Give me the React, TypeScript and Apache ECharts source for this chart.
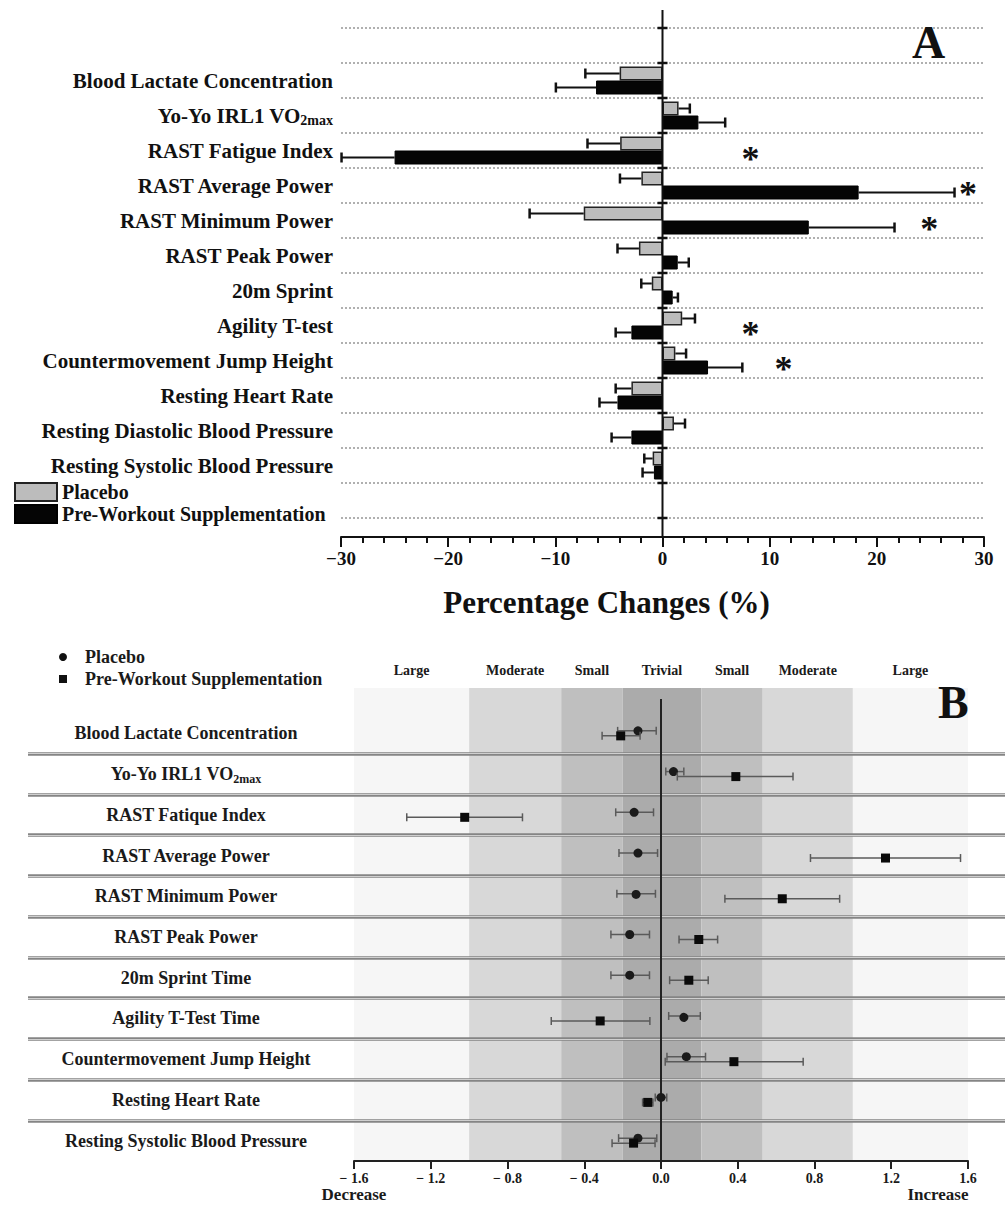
import React, { useEffect, useRef } from 'react';
import * as echarts from 'echarts';

const SERIF = '"Liberation Serif", "Times New Roman", serif';

// ---------- Panel A data (percentage changes) ----------
const catsA = [
  'Blood Lactate Concentration',
  'Yo-Yo IRL1 VO2max',
  'RAST Fatigue Index',
  'RAST Average Power',
  'RAST Minimum Power',
  'RAST Peak Power',
  '20m Sprint',
  'Agility T-test',
  'Countermovement Jump Height',
  'Resting Heart Rate',
  'Resting Diastolic Blood Pressure',
  'Resting Systolic Blood Pressure',
];
const placeboA = [-4.0, 1.5, -3.95, -1.97, -7.35, -2.2, -1.0, 1.84, 1.2, -2.9, 1.07, -0.92];
const placeboSDA = [3.2, 1.05, 3.05, 2.0, 5.05, 2.0, 0.98, 1.19, 1.0, 1.47, 1.03, 0.78];
const pwsA = [-6.2, 3.35, -25.0, 18.3, 13.65, 1.42, 0.95, -2.9, 4.25, -4.2, -2.9, -0.8];
const pwsSDA = [3.75, 2.5, 4.95, 8.95, 8.0, 1.03, 0.49, 1.47, 3.2, 1.68, 1.85, 1.06];
const starCatsA = ['RAST Fatigue Index', 'RAST Average Power', 'RAST Minimum Power', 'Agility T-test', 'Countermovement Jump Height'];
const starXA = [8.2, 28.5, 24.9, 8.2, 11.3];

// ---------- Panel B data (effect sizes) ----------
const catsB = [
  'Blood Lactate Concentration',
  'Yo-Yo IRL1 VO2max',
  'RAST Fatique Index',
  'RAST Average Power',
  'RAST Minimum Power',
  'RAST Peak Power',
  '20m Sprint Time',
  'Agility T-Test Time',
  'Countermovement Jump Height',
  'Resting Heart Rate',
  'Resting Systolic Blood Pressure',
];
const placeboB = [-0.12, 0.065, -0.14, -0.12, -0.13, -0.163, -0.163, 0.118, 0.132, 0.0, -0.12];
const placeboLoB = [-0.226, 0.025, -0.236, -0.219, -0.23, -0.261, -0.261, 0.04, 0.031, -0.03, -0.221];
const placeboHiB = [-0.025, 0.119, -0.039, -0.018, -0.029, -0.06, -0.06, 0.205, 0.232, 0.03, -0.022];
const pwsB = [-0.21, 0.39, -1.023, 1.17, 0.632, 0.197, 0.145, -0.317, 0.38, -0.069, -0.143];
const pwsLoB = [-0.307, 0.085, -1.325, 0.779, 0.333, 0.094, 0.045, -0.572, 0.022, -0.096, -0.255];
const pwsHiB = [-0.109, 0.688, -0.722, 1.561, 0.931, 0.295, 0.246, -0.058, 0.741, -0.042, -0.031];

const bandEdges = [-1.6, -1.0, -0.52, -0.2, 0.21, 0.53, 1.0, 1.6];
const bandNames = ['Large', 'Moderate', 'Small', 'Trivial', 'Small', 'Moderate', 'Large'];
const bandColors = ['#f6f6f6', '#d8d8d8', '#bfbfbf', '#ababab', '#bfbfbf', '#d8d8d8', '#f6f6f6'];

const yCatsA = [' ', ...catsA, '  '];

const labelFmt = (v: string) =>
  v.indexOf('VO2max') >= 0 ? '{a|' + v.replace('VO2max', 'VO') + '}{s|2max}' : '{a|' + v + '}';

function buildOption() {
  const errA = (vals: number[], sds: number[], dy: number) => ({
    type: 'custom',
    xAxisIndex: 0,
    yAxisIndex: 0,
    z: 3,
    silent: true,
    data: vals.map((v, i) => [v, v + Math.sign(v) * sds[i], i + 1]),
    encode: { x: [0, 1], y: 2 },
    renderItem: (params: any, api: any) => {
      const s = api.coord([api.value(0), api.value(2)]);
      const e = api.coord([api.value(1), api.value(2)]);
      const y = s[1] + dy;
      return {
        type: 'group',
        children: [
          { type: 'line', shape: { x1: s[0], y1: y, x2: e[0], y2: y }, style: { stroke: '#111', lineWidth: 2 } },
          { type: 'line', shape: { x1: e[0], y1: y - 5, x2: e[0], y2: y + 5 }, style: { stroke: '#111', lineWidth: 2.5 } },
        ],
      };
    },
  });

  const pointsB = (vals: number[], lo: number[], hi: number[], dy: number, shape: 'circle' | 'square') => ({
    type: 'custom',
    xAxisIndex: 2,
    yAxisIndex: 2,
    z: 4,
    silent: true,
    data: vals.map((v, i) => [v, lo[i], hi[i], i]),
    encode: { x: [0, 1, 2], y: 3 },
    renderItem: (params: any, api: any) => {
      const c = api.coord([api.value(0), api.value(3)]);
      const l = api.coord([api.value(1), api.value(3)]);
      const h = api.coord([api.value(2), api.value(3)]);
      const y = c[1] + dy;
      const st = { stroke: '#5a5a5a', lineWidth: 1.5 };
      const marker =
        shape === 'circle'
          ? { type: 'circle', shape: { cx: c[0], cy: y, r: 4.5 }, style: { fill: '#1a1a1a' } }
          : { type: 'rect', shape: { x: c[0] - 4.5, y: y - 4.5, width: 9, height: 9 }, style: { fill: '#0a0a0a' } };
      return {
        type: 'group',
        children: [
          { type: 'line', shape: { x1: l[0], y1: y, x2: h[0], y2: y }, style: st },
          { type: 'line', shape: { x1: l[0], y1: y - 4, x2: l[0], y2: y + 4 }, style: st },
          { type: 'line', shape: { x1: h[0], y1: y - 4, x2: h[0], y2: y + 4 }, style: st },
          marker,
        ],
      };
    },
  });

  const catLabelA = {
    fontFamily: SERIF,
    fontWeight: 'bold',
    color: '#111',
    margin: 8,
    formatter: labelFmt,
    rich: {
      a: { fontFamily: SERIF, fontWeight: 'bold', fontSize: 21, color: '#111' },
      s: { fontFamily: SERIF, fontWeight: 'bold', fontSize: 14, color: '#111', padding: [10, 0, 0, 0] },
    },
  };
  const catLabelB = {
    fontFamily: SERIF,
    fontWeight: 'bold',
    color: '#1a1a1a',
    align: 'center',
    margin: 168,
    formatter: labelFmt,
    rich: {
      a: { fontFamily: SERIF, fontWeight: 'bold', fontSize: 18, color: '#1a1a1a' },
      s: { fontFamily: SERIF, fontWeight: 'bold', fontSize: 12, color: '#1a1a1a', padding: [9, 0, 0, 0] },
    },
  };

  const near = (a: number, b: number) => Math.abs(a - b) < 1e-6;

  return {
    animation: false,
    backgroundColor: '#ffffff',
    textStyle: { fontFamily: SERIF },
    graphic: [
      { type: 'text', z: 100, left: 912, top: 19, style: { text: 'A', font: 'bold 46px ' + SERIF, fill: '#111' } },
      { type: 'text', z: 100, left: 938, top: 679, style: { text: 'B', font: 'bold 46px ' + SERIF, fill: '#111' } },
    ],
    legend: [
      {
        data: ['Placebo', 'Pre-Workout Supplementation'],
        orient: 'vertical',
        left: 14,
        top: 482,
        padding: 0,
        itemWidth: 42,
        itemHeight: 18,
        itemGap: 2,
        icon: 'rect',
        selectedMode: false,
        textStyle: { fontFamily: SERIF, fontWeight: 'bold', fontSize: 20, color: '#111' },
      },
      {
        data: [
          { name: 'Placebo', icon: 'circle', itemStyle: { color: '#111', borderWidth: 0 } },
          { name: 'Pre-Workout Supplementation', icon: 'rect', itemStyle: { color: '#111', borderWidth: 0 } },
        ],
        orient: 'vertical',
        left: 59,
        top: 648,
        padding: 0,
        itemWidth: 8,
        itemHeight: 8,
        itemGap: 4,
        selectedMode: false,
        textStyle: { fontFamily: SERIF, fontWeight: 'bold', fontSize: 18, color: '#1a1a1a', padding: [0, 0, 0, 13] },
      },
    ],
    grid: [
      { left: 341, right: 21, top: 28, height: 490 },
      { left: 354, right: 37, top: 688, height: 472 },
      { left: 354, right: 37, top: 713, height: 448 },
      { left: 28, right: 0, top: 713, height: 448 },
    ],
    xAxis: [
      {
        gridIndex: 0,
        type: 'value',
        min: -30,
        max: 30,
        interval: 10,
        offset: 19,
        position: 'bottom',
        axisLine: { show: true, onZero: false, lineStyle: { color: '#111', width: 2 } },
        axisTick: { show: true, length: 10, lineStyle: { color: '#111', width: 2 } },
        minorTick: { show: true, splitNumber: 5, length: 6, lineStyle: { color: '#111', width: 2 } },
        splitLine: { show: false },
        axisLabel: {
          margin: 12,
          fontFamily: SERIF,
          fontWeight: 'bold',
          fontSize: 19,
          color: '#111',
          formatter: (v: number) => (v < 0 ? '\u2212' + Math.abs(v) : String(v)),
        },
        name: 'Percentage Changes (%)',
        nameLocation: 'middle',
        nameGap: 50,
        nameTextStyle: { fontFamily: SERIF, fontWeight: 'bold', fontSize: 31, color: '#111', padding: [0, 112, 0, 0] },
      },
      { gridIndex: 1, type: 'value', min: -1.6, max: 1.6, show: false },
      {
        gridIndex: 2,
        type: 'value',
        min: -1.6,
        max: 1.6,
        interval: 0.4,
        position: 'bottom',
        axisLine: { show: true, onZero: false, lineStyle: { color: '#222', width: 2 } },
        axisTick: { show: true, length: 8, lineStyle: { color: '#222', width: 2 } },
        splitLine: { show: false },
        axisLabel: {
          margin: 10,
          fontFamily: SERIF,
          fontWeight: 'bold',
          fontSize: 14,
          color: '#1a1a1a',
          showMinLabel: true,
          showMaxLabel: true,
          formatter: (v: number) => (v < -1e-9 ? '\u2212 ' + Math.abs(v).toFixed(1) : Math.abs(v).toFixed(1)),
        },
      },
      {
        gridIndex: 2,
        type: 'value',
        min: -1.6,
        max: 1.6,
        interval: 0.4,
        position: 'bottom',
        axisLine: { show: false },
        axisTick: { show: false },
        splitLine: { show: false },
        axisLabel: {
          margin: 25,
          fontFamily: SERIF,
          fontWeight: 'bold',
          fontSize: 17,
          color: '#1a1a1a',
          showMinLabel: true,
          showMaxLabel: true,
          formatter: (v: number) => (near(v, -1.6) ? '{d|Decrease}' : near(v, 1.6) ? '{i|Increase}' : ''),
          rich: {
            d: { fontFamily: SERIF, fontWeight: 'bold', fontSize: 17, color: '#1a1a1a' },
            i: { fontFamily: SERIF, fontWeight: 'bold', fontSize: 17, color: '#1a1a1a', padding: [0, 60, 0, 0] },
          },
        },
      },
      { gridIndex: 3, type: 'value', min: 0, max: 1, show: false },
    ],
    yAxis: [
      {
        gridIndex: 0,
        type: 'category',
        data: yCatsA,
        inverse: true,
        axisLine: { show: false },
        axisTick: { show: false },
        splitLine: { show: true, lineStyle: { type: 'dotted', color: '#b0b0b0', width: 2 } },
        axisLabel: catLabelA,
      },
      { gridIndex: 1, type: 'value', min: 0, max: 1, show: false },
      {
        gridIndex: 2,
        type: 'category',
        data: catsB,
        inverse: true,
        axisLine: { show: false },
        axisTick: { show: false },
        splitLine: { show: false },
        axisLabel: catLabelB,
      },
      {
        gridIndex: 3,
        type: 'category',
        data: catsB,
        inverse: true,
        z: 2,
        axisLine: { show: false },
        axisTick: { show: false },
        axisLabel: { show: false },
        splitLine: { show: true, showMinLine: false, showMaxLine: false, lineStyle: { color: '#858585', width: 3.5 } },
      },
      {
        gridIndex: 3,
        type: 'category',
        data: catsB,
        inverse: true,
        position: 'right',
        z: 2,
        axisLine: { show: false },
        axisTick: { show: false },
        axisLabel: { show: false },
        splitLine: { show: true, showMinLine: false, showMaxLine: false, lineStyle: { color: '#cfcfcf', width: 1 } },
      },
    ],
    series: [
      {
        name: 'Placebo',
        type: 'bar',
        xAxisIndex: 0,
        yAxisIndex: 0,
        barWidth: 14,
        barGap: '0%',
        z: 2,
        data: ['-', ...placeboA, '-'],
        itemStyle: { color: '#bcbcbc', borderColor: '#222', borderWidth: 1.5 },
      },
      {
        name: 'Pre-Workout Supplementation',
        type: 'bar',
        xAxisIndex: 0,
        yAxisIndex: 0,
        barWidth: 14,
        barGap: '0%',
        z: 2,
        data: ['-', ...pwsA, '-'],
        itemStyle: { color: '#050505', borderColor: '#000', borderWidth: 1 },
      },
      errA(placeboA, placeboSDA, -7),
      errA(pwsA, pwsSDA, 7),
      {
        type: 'custom',
        xAxisIndex: 0,
        yAxisIndex: 0,
        z: 4,
        silent: true,
        data: starXA.map((x, i) => [x, catsA.indexOf(starCatsA[i]) + 1]),
        encode: { x: 0, y: 1 },
        renderItem: (params: any, api: any) => {
          const c = api.coord([api.value(0), api.value(1)]);
          return {
            type: 'text',
            x: c[0],
            y: c[1] + 8,
            style: { text: '*', font: 'bold 36px ' + SERIF, fill: '#111', align: 'center', verticalAlign: 'middle' },
          };
        },
      },
      {
        // zero reference line of panel A, with its small ticks at each row boundary
        type: 'custom',
        xAxisIndex: 0,
        yAxisIndex: 0,
        z: 5,
        silent: true,
        data: [[0, 0]],
        encode: { x: 0, y: 1 },
        renderItem: (params: any, api: any) => {
          const cs = params.coordSys;
          const x = api.coord([0, 0])[0];
          const band = api.size([0, 1])[1];
          const children: any[] = [
            { type: 'line', shape: { x1: x, y1: cs.y - 18, x2: x, y2: cs.y + cs.height + 19 }, style: { stroke: '#111', lineWidth: 2 } },
          ];
          for (let k = 0; k <= yCatsA.length; k++) {
            const y = cs.y + k * band;
            children.push({ type: 'line', shape: { x1: x - 5, y1: y, x2: x + 5, y2: y }, style: { stroke: '#111', lineWidth: 2.5 } });
          }
          return { type: 'group', children };
        },
      },
      {
        // effect size bands
        type: 'custom',
        xAxisIndex: 1,
        yAxisIndex: 1,
        z: 1,
        silent: true,
        data: bandNames.map((n, i) => [bandEdges[i], bandEdges[i + 1], i]),
        encode: { x: [0, 1] },
        renderItem: (params: any, api: any) => {
          const i = api.value(2);
          const p0 = api.coord([api.value(0), 1]);
          const p1 = api.coord([api.value(1), 0]);
          return {
            type: 'group',
            children: [
              {
                type: 'rect',
                shape: { x: p0[0], y: p0[1], width: p1[0] - p0[0], height: p1[1] - p0[1] },
                style: { fill: bandColors[i] },
              },
              {
                type: 'text',
                x: (p0[0] + p1[0]) / 2,
                y: p0[1] - 11,
                style: {
                  text: bandNames[i],
                  font: 'bold 14px ' + SERIF,
                  fill: '#1a1a1a',
                  align: 'center',
                  verticalAlign: 'bottom',
                },
              },
            ],
          };
        },
      },
      {
        // zero reference line of panel B
        type: 'custom',
        xAxisIndex: 2,
        yAxisIndex: 2,
        z: 3,
        silent: true,
        data: [[0, 0]],
        encode: { x: 0, y: 1 },
        renderItem: (params: any, api: any) => {
          const cs = params.coordSys;
          const x = api.coord([0, 0])[0];
          return {
            type: 'line',
            shape: { x1: x, y1: cs.y - 14, x2: x, y2: cs.y + cs.height },
            style: { stroke: '#222', lineWidth: 2 },
          };
        },
      },
      pointsB(placeboB, placeboLoB, placeboHiB, -2.5, 'circle'),
      pointsB(pwsB, pwsLoB, pwsHiB, 2.5, 'square'),
    ],
  };
}

export default function App() {
  const ref = useRef<HTMLDivElement>(null);
  useEffect(() => {
    document.body.style.margin = '0';
    const chart = echarts.init(ref.current as HTMLDivElement, null, { renderer: 'svg' });
    chart.setOption(buildOption() as any);
    return () => chart.dispose();
  }, []);
  return <div ref={ref} style={{ width: 1005, height: 1205 }} />;
}
